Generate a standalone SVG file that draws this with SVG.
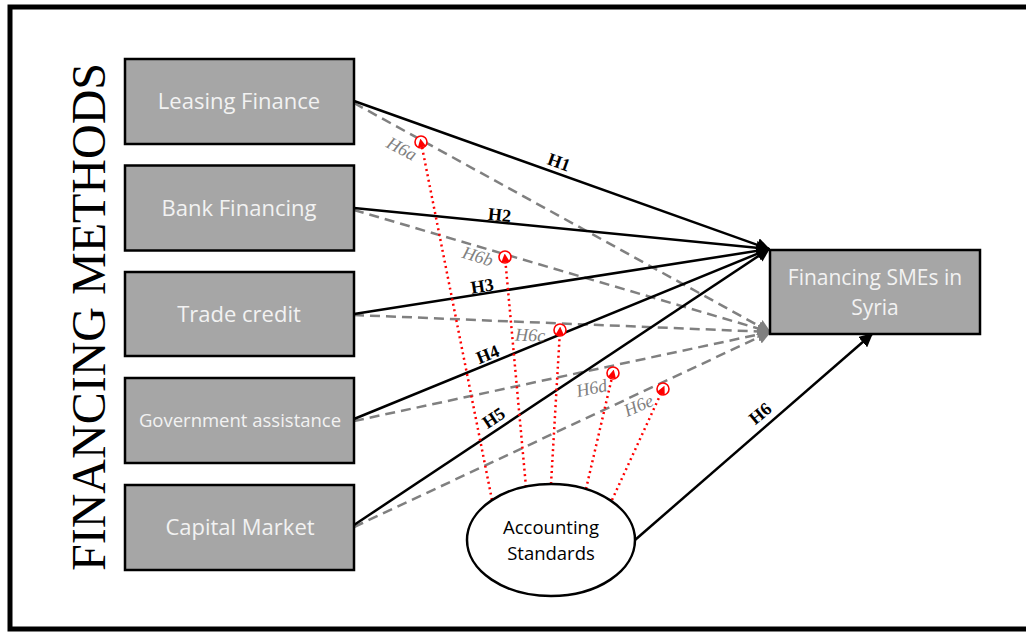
<svg xmlns="http://www.w3.org/2000/svg" width="1026" height="632" viewBox="0 0 1026 632">
<style>
.box{fill:#a6a6a6;stroke:#000;stroke-width:2.5}
.bt{font-family:"Open Sans","Noto Sans",sans-serif;fill:#f2f2f2;text-anchor:middle}
.solid{stroke:#000;stroke-width:2.5;fill:none}
.dash{stroke:#808080;stroke-width:2.5;stroke-dasharray:10 6;fill:none}
.dot{stroke:#ff0000;stroke-width:2.5;stroke-dasharray:2 3.5;fill:none}
.rc{fill:#fff;stroke:#ff0000;stroke-width:1.6}
.hl{font-family:"Liberation Serif",serif;font-weight:bold;font-size:18px;fill:#000;text-anchor:middle}
.hg{font-family:"Liberation Serif",serif;font-style:italic;font-size:18px;fill:#808080;text-anchor:middle}
</style>
<defs>
<marker id="ab" viewBox="0 0 10 10" refX="9" refY="5" markerWidth="5.5" markerHeight="5.5" orient="auto" markerUnits="strokeWidth"><path d="M0,0 L10,5 L0,10 z" fill="#000"/></marker>
<marker id="ag" viewBox="0 0 10 10" refX="9" refY="5" markerWidth="5.5" markerHeight="5.5" orient="auto" markerUnits="strokeWidth"><path d="M0,0 L10,5 L0,10 z" fill="#808080"/></marker>
<marker id="ar" viewBox="0 0 10 10" refX="6" refY="5" markerWidth="3.5" markerHeight="3.5" orient="auto" markerUnits="strokeWidth"><path d="M0,0 L10,5 L0,10 z" fill="#ff0000"/></marker>
</defs>
<rect x="10" y="7" width="1030" height="622" fill="#fff" stroke="#000" stroke-width="5"/>
<text transform="translate(105,317) rotate(-90)" font-family="Liberation Serif,serif" font-size="48" text-anchor="middle" fill="#000">FINANCING METHODS</text>

<g id="connectors">
<line class="dash" x1="354" y1="103" x2="770" y2="332" marker-end="url(#ag)"/>
<line class="dash" x1="354" y1="210" x2="770" y2="332" marker-end="url(#ag)"/>
<line class="dash" x1="354" y1="315" x2="770" y2="332" marker-end="url(#ag)"/>
<line class="dash" x1="354" y1="421" x2="770" y2="332" marker-end="url(#ag)"/>
<line class="dash" x1="354" y1="527" x2="770" y2="332" marker-end="url(#ag)"/>
<line class="solid" x1="354" y1="101" x2="769" y2="249" marker-end="url(#ab)"/>
<line class="solid" x1="354" y1="208" x2="769" y2="249" marker-end="url(#ab)"/>
<line class="solid" x1="354" y1="314" x2="769" y2="249" marker-end="url(#ab)"/>
<line class="solid" x1="354" y1="419" x2="769" y2="249" marker-end="url(#ab)"/>
<line class="solid" x1="354" y1="525" x2="769" y2="249" marker-end="url(#ab)"/>
<line class="solid" x1="635" y1="540" x2="872" y2="334" marker-end="url(#ab)"/>
<circle class="rc" cx="421" cy="142" r="6"/>
<circle class="rc" cx="505" cy="257" r="6"/>
<circle class="rc" cx="560" cy="330" r="6"/>
<circle class="rc" cx="613" cy="373" r="6"/>
<circle class="rc" cx="663" cy="389" r="6"/>
<line class="dot" x1="492" y1="500" x2="421" y2="142" marker-end="url(#ar)"/>
<line class="dot" x1="526" y1="487" x2="505" y2="257" marker-end="url(#ar)"/>
<line class="dot" x1="551" y1="484" x2="560" y2="330" marker-end="url(#ar)"/>
<line class="dot" x1="586" y1="489" x2="613" y2="373" marker-end="url(#ar)"/>
<line class="dot" x1="612" y1="500" x2="663" y2="389" marker-end="url(#ar)"/>
<text class="hl" transform="translate(557,168) rotate(19.7)">H1</text>
<text class="hl" transform="translate(499,221) rotate(5.7)">H2</text>
<text class="hl" transform="translate(483,292) rotate(-8.7)">H3</text>
<text class="hl" transform="translate(490,360) rotate(-22)">H4</text>
<text class="hl" transform="translate(497,423) rotate(-33.5)">H5</text>
<text class="hl" transform="translate(764,418) rotate(-40)">H6</text>
<text class="hg" transform="translate(399,154) rotate(28)">H6a</text>
<text class="hg" transform="translate(476,262) rotate(17)">H6b</text>
<text class="hg" transform="translate(530,341) rotate(2)">H6c</text>
<text class="hg" transform="translate(593,394) rotate(-12)">H6d</text>
<text class="hg" transform="translate(641,411) rotate(-24)">H6e</text>
</g>

<g id="leasing"><rect class="box" x="125" y="59" width="229" height="85"/><text class="bt" x="239" y="109" font-size="22">Leasing Finance</text></g>
<g id="bank"><rect class="box" x="125" y="165.5" width="229" height="85"/><text class="bt" x="239" y="216" font-size="22">Bank Financing</text></g>
<g id="trade"><rect class="box" x="125" y="272" width="229" height="84"/><text class="bt" x="239" y="322" font-size="22">Trade credit</text></g>
<g id="gov"><rect class="box" x="125" y="378" width="229" height="85"/><text class="bt" x="240" y="427" font-size="18.5">Government assistance</text></g>
<g id="capital"><rect class="box" x="125" y="485" width="229" height="85"/><text class="bt" x="240" y="535" font-size="22">Capital Market</text></g>
<g id="target"><rect class="box" x="770" y="250" width="210" height="84"/><text class="bt" x="875" y="285" font-size="21">Financing SMEs in</text><text class="bt" x="875" y="315" font-size="21">Syria</text></g>
<g id="accounting"><ellipse cx="551" cy="540" rx="84" ry="56" fill="#fff" stroke="#000" stroke-width="2.5"/><text x="551" y="534" font-family="Open Sans,Noto Sans,sans-serif" font-size="18.5" text-anchor="middle" fill="#000">Accounting</text><text x="551" y="560" font-family="Open Sans,Noto Sans,sans-serif" font-size="18.5" text-anchor="middle" fill="#000">Standards</text></g>
</svg>
